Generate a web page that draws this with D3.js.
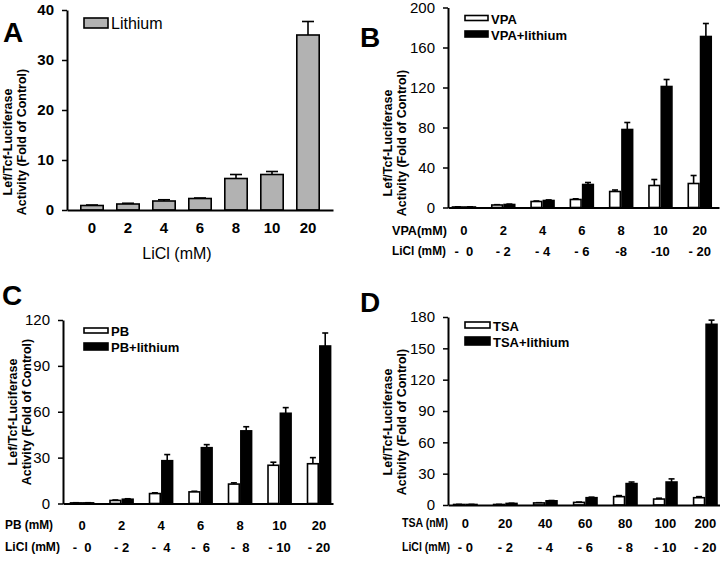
<!DOCTYPE html>
<html><head><meta charset="utf-8">
<script src="https://cdn.jsdelivr.net/npm/d3@7/dist/d3.min.js"></script>
<style>
html,body{margin:0;padding:0;background:#fff;}
svg{display:block;font-family:"Liberation Sans",Arial,sans-serif;}
</style></head>
<body>
<svg id="chart" width="720" height="561"></svg>
<script>
// ---------- DATA ----------
const groupsConc = ["0","2","4","6","8","10","20"];
const tsaConc = ["0","20","40","60","80","100","200"];
const liclLabelsB = ["-  0","- 2","- 4","- 6","-8","-10","- 20"];
const liclLabelsC = ["-  0","- 2","-  4","-  6","-  8","- 10","- 20"];
const liclLabelsD = ["- 0","- 2","- 4","- 6","- 8","- 10","- 20"];

// Panel A
const lithium = [0.9, 1.2, 1.8, 2.3, 6.3, 7.1, 35];
const lithiumErr = [0.1, 0.15, 0.25, 0.1, 0.8, 0.6, 2.7];
const ticksA = [0, 10, 20, 30, 40];

// Panel B
const vpa = [0.5, 2.5, 6, 8, 16, 22, 24];
const vpaErr = [0.2, 0.3, 0.5, 0.7, 1.5, 6, 8];
const vpaLi = [0.5, 3, 7, 23, 78, 121, 171];
const vpaLiErr = [0.2, 0.4, 0.6, 2, 7, 7, 13];
const ticksB = [0, 40, 80, 120, 160, 200];

// Panel C
const pb = [0.4, 2, 6.5, 7.6, 12.7, 25, 26];
const pbErr = [0.1, 0.3, 0.5, 0.4, 0.8, 2, 4];
const pbLi = [0.4, 2.8, 28, 36.5, 47.5, 59, 103];
const pbLiErr = [0.1, 0.3, 4, 2, 2.7, 3.7, 8.5];
const ticksC = [0, 30, 60, 90, 120];

// Panel D
const tsa = [0.5, 0.5, 2, 2.5, 8, 5.7, 7];
const tsaErr = [0.1, 0.1, 0.2, 0.3, 1, 0.8, 1];
const tsaLi = [0.5, 1.5, 4, 7, 20.5, 22, 173];
const tsaLiErr = [0.1, 0.2, 0.3, 0.5, 1.5, 3, 4];
const ticksD = [0, 30, 60, 90, 120, 150, 180];

// ---------- DRAW ----------
const svg = d3.select("#chart");
const FONT = "'Liberation Sans', Arial, sans-serif";

// condensed text: draw at natural size, then squeeze horizontally to the wanted width
function squeezedText(g, txt, x, y, len) {
  const t = g.append("text").attr("x", 0).attr("y", 0)
    .attr("dominant-baseline", "central").attr("font-family", FONT)
    .attr("font-size", 13).attr("font-weight", "bold").text(txt);
  const nat = t.node().getComputedTextLength();
  const sx = Math.min(1, len / nat);
  t.attr("transform", `translate(${x},${y}) scale(${sx},1)`);
  return t;
}

function drawPanel(cfg) {
  const g = svg.append("g");
  const y = d3.scaleLinear().domain([0, cfg.yMax]).range([cfg.y0, cfg.yTop]);
  const x0 = d3.scaleBand().domain(cfg.groups).range(cfg.bandRange)
    .paddingInner(cfg.padInner).paddingOuter(cfg.padInner / 2);
  const keys = cfg.series.map((s, i) => "s" + i);
  const x1 = d3.scaleBand().domain(keys).range([0, x0.bandwidth()]).padding(0);

  cfg.series.forEach((s, si) => {
    const data = cfg.groups.map((gr, i) => ({g: gr, v: s.values[i], e: s.errs[i]}));
    const sg = g.append("g");
    const cx = d => x0(d.g) + x1("s" + si) + x1.bandwidth() / 2;
    sg.selectAll("line.err").data(data).enter().append("line")
      .attr("x1", cx).attr("x2", cx)
      .attr("y1", d => y(d.v)).attr("y2", d => y(d.v + d.e))
      .attr("stroke", "#000").attr("stroke-width", 1.6);
    sg.selectAll("line.cap").data(data).enter().append("line")
      .attr("x1", d => cx(d) - cfg.capW / 2).attr("x2", d => cx(d) + cfg.capW / 2)
      .attr("y1", d => y(d.v + d.e)).attr("y2", d => y(d.v + d.e))
      .attr("stroke", "#000").attr("stroke-width", 1.6);
    sg.selectAll("rect").data(data).enter().append("rect")
      .attr("x", d => x0(d.g) + x1("s" + si) + 0.8)
      .attr("width", x1.bandwidth() - 1.6)
      .attr("y", d => y(d.v))
      .attr("height", d => Math.max(0.5, y(0) - y(d.v)))
      .attr("fill", s.fill).attr("stroke", "#000").attr("stroke-width", 1.6);
  });

  const yAxis = d3.axisLeft(y).tickValues(cfg.yTicks).tickSize(5).tickPadding(8).tickSizeOuter(0);
  const ya = g.append("g").attr("transform", `translate(${cfg.axisX},0)`).call(yAxis);
  ya.select(".domain").attr("stroke-width", 2);
  ya.selectAll(".tick line").attr("stroke-width", 1.5);
  ya.selectAll(".tick text").attr("font-family", FONT).attr("font-size", cfg.tickFont)
    .attr("font-weight", cfg.tickWeight).attr("fill", "#000");

  const xa = g.append("g").attr("transform", `translate(0,${cfg.y0})`)
    .call(d3.axisBottom(d3.scaleLinear().range([cfg.axisX, cfg.axisEnd])).ticks(0).tickSizeOuter(0));
  xa.select(".domain").attr("stroke-width", 2);

  g.selectAll("text.grp").data(cfg.groups).enter().append("text")
    .attr("x", d => x0(d) + x0.bandwidth() / 2).attr("y", cfg.row1Y)
    .attr("text-anchor", "middle").attr("dominant-baseline", "central")
    .attr("font-family", FONT).attr("font-size", cfg.row1Font).attr("font-weight", "bold")
    .text(d => d);
  if (cfg.row1Title) squeezedText(g, cfg.row1Title, cfg.rowTitleX, cfg.row1Y, cfg.row1TitleLen);
  if (cfg.licl) {
    g.selectAll("text.licl").data(cfg.licl).enter().append("text")
      .attr("x", (d, i) => x0(cfg.groups[i]) + x0.bandwidth() / 2).attr("y", cfg.row2Y)
      .attr("text-anchor", "middle").attr("dominant-baseline", "central")
      .attr("font-family", FONT).attr("font-size", 13).attr("font-weight", "bold")
      .attr("xml:space", "preserve").style("white-space", "pre")
      .text(d => d);
    squeezedText(g, "LiCl (mM)", cfg.rowTitleX, cfg.row2Y, cfg.row2TitleLen);
  }
  if (cfg.xTitle) {
    g.append("text").attr("x", cfg.xTitle.x).attr("y", cfg.xTitle.y)
      .attr("text-anchor", "middle").attr("dominant-baseline", "central")
      .attr("font-family", FONT).attr("font-size", 16).text(cfg.xTitle.text);
  }

  const yt = g.append("g").attr("transform", `translate(${cfg.yTitleX},${cfg.yTitleY}) rotate(-90)`);
  ["Lef/Tcf-Luciferase", "Activity (Fold of Control)"].forEach((t, i) => {
    yt.append("text").attr("x", 0).attr("y", i * 14)
      .attr("text-anchor", "middle").attr("dominant-baseline", "central")
      .attr("font-family", FONT).attr("font-size", 12.5).attr("font-weight", "bold").text(t);
  });

  g.append("text").attr("x", cfg.letter.x).attr("y", cfg.letter.y)
    .attr("font-family", FONT).attr("font-size", 28).attr("font-weight", "bold").text(cfg.letter.t);

  cfg.series.forEach((s, si) => {
    const L = cfg.legend[si];
    g.append("rect").attr("x", L.x).attr("y", L.y).attr("width", L.w).attr("height", L.h)
      .attr("fill", s.fill).attr("stroke", "#000").attr("stroke-width", 1.6);
    g.append("text").attr("x", L.x + L.w + 3).attr("y", L.ty)
      .attr("dominant-baseline", "central").attr("font-family", FONT)
      .attr("font-size", cfg.legendFont).attr("font-weight", cfg.legendWeight).text(s.name);
  });
}

// Panel A
drawPanel({
  groups: groupsConc, yMax: 40, y0: 210, yTop: 10, yTicks: ticksA,
  axisX: 67, axisEnd: 333, bandRange: [74, 326], padInner: 1 / 3, capW: 12,
  tickFont: 15, tickWeight: "bold",
  series: [{name: "Lithium", values: lithium, errs: lithiumErr, fill: "#b2b2b2"}],
  row1Y: 227, row1Font: 15,
  xTitle: {text: "LiCl (mM)", x: 177, y: 253},
  yTitleX: 8, yTitleY: 142,
  letter: {t: "A", x: 3, y: 42},
  legend: [{x: 84, y: 18, w: 24, h: 10, ty: 23}], legendFont: 16, legendWeight: "normal"
});

// Panel B
drawPanel({
  groups: groupsConc, yMax: 200, y0: 207.5, yTop: 7.5, yTicks: ticksB,
  axisX: 448, axisEnd: 719, bandRange: [444.3, 719.4], padInner: 0.375, capW: 6,
  tickFont: 15, tickWeight: "normal",
  series: [{name: "VPA", values: vpa, errs: vpaErr, fill: "#fff"},
           {name: "VPA+lithium", values: vpaLi, errs: vpaLiErr, fill: "#000"}],
  row1Y: 230, row1Font: 13, row1Title: "VPA(mM)", row1TitleLen: 55, rowTitleX: 392,
  licl: liclLabelsB, row2Y: 251, row2TitleLen: 54,
  yTitleX: 388, yTitleY: 143,
  letter: {t: "B", x: 360, y: 47},
  legend: [{x: 465, y: 15.5, w: 23, h: 5, ty: 19.5}, {x: 465, y: 31, w: 23, h: 6, ty: 35}],
  legendFont: 13, legendWeight: "bold"
});

// Panel C
drawPanel({
  groups: groupsConc, yMax: 120, y0: 503.5, yTop: 320, yTicks: ticksC,
  axisX: 63, axisEnd: 333, bandRange: [62.3, 338.8], padInner: 0.375, capW: 6,
  tickFont: 15, tickWeight: "normal",
  series: [{name: "PB", values: pb, errs: pbErr, fill: "#fff"},
           {name: "PB+lithium", values: pbLi, errs: pbLiErr, fill: "#000"}],
  row1Y: 525, row1Font: 13, row1Title: "PB (mM)", row1TitleLen: 48, rowTitleX: 5,
  licl: liclLabelsC, row2Y: 547, row2TitleLen: 55,
  yTitleX: 13, yTitleY: 412,
  letter: {t: "C", x: 2, y: 305},
  legend: [{x: 84, y: 328, w: 24, h: 5, ty: 331}, {x: 84, y: 343, w: 24, h: 7, ty: 347}],
  legendFont: 13, legendWeight: "bold"
});

// Panel D
drawPanel({
  groups: tsaConc, yMax: 180, y0: 505, yTop: 317, yTicks: ticksD,
  axisX: 448, axisEnd: 720, bandRange: [445.3, 725.3], padInner: 0.375, capW: 6,
  tickFont: 15, tickWeight: "normal",
  series: [{name: "TSA", values: tsa, errs: tsaErr, fill: "#fff"},
           {name: "TSA+lithium", values: tsaLi, errs: tsaLiErr, fill: "#000"}],
  row1Y: 523, row1Font: 13, row1Title: "TSA (nM)", row1TitleLen: 46, rowTitleX: 402,
  licl: liclLabelsD, row2Y: 547, row2TitleLen: 48,
  yTitleX: 388, yTitleY: 422,
  letter: {t: "D", x: 360, y: 312},
  legend: [{x: 465, y: 322, w: 25, h: 6, ty: 326}, {x: 465, y: 337, w: 25, h: 8, ty: 342}],
  legendFont: 13, legendWeight: "bold"
});
</script>
</body></html>
